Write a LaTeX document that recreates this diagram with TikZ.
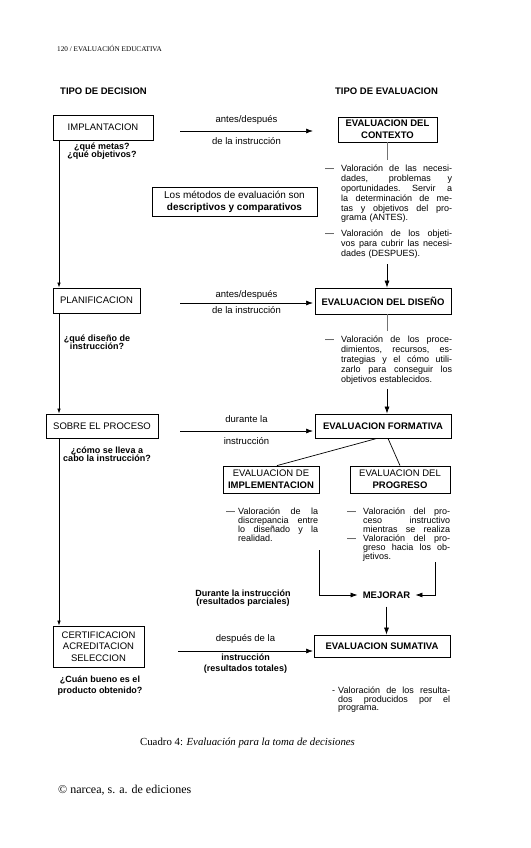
\documentclass[tikz,border=0pt]{standalone}
\usepackage{fontspec}
\setmainfont{Liberation Sans}
\newfontfamily\serifface{Liberation Serif}
\usetikzlibrary{arrows.meta}
\newlength\dashw
\newlength\notew
\setlength\dashw{16pt}
\newcommand{\tf}[2]{\fontsize{#1}{#2}\selectfont\lineskiplimit=-20pt\relax}
\newcommand{\sk}{\spaceskip=0.27em plus 3em\relax\xspaceskip=\spaceskip}
\newcommand{\dl}[2][---]{\noindent\makebox[\dashw][l]{#1}\makebox[\dimexpr\notew-\dashw\relax][s]{\sk#2}\par}
\newcommand{\jl}[1]{\noindent\hspace*{\dashw}\makebox[\dimexpr\notew-\dashw\relax][s]{\sk#1}\par}
\newcommand{\el}[1]{\noindent\hspace*{\dashw}#1\par}

\begin{document}
\begin{tikzpicture}[x=1pt,y=-1pt,
  box/.style={draw, line width=0.8pt, inner sep=1pt, align=center, font=\tf{9.5}{11.7}},
  bbox/.style={box, font=\tf{9.5}{11.7}\bfseries},
  hd/.style={inner sep=0, font=\tf{9.5}{11}\bfseries},
  qu/.style={inner sep=0, align=center, font=\tf{9}{#1}\bfseries},
  lab/.style={inner sep=0, anchor=base, font=\tf{9.5}{11}},
  note/.style={inner sep=0, anchor=north west, font=\tf{9}{#1}},
  nw/.style={text width=#1, execute at begin node={\setlength\notew{#1}}},
  arr/.style={line width=0.7pt, -{Latex[length=7pt,width=5pt]}},
  sarr/.style={line width=0.7pt, -{Latex[length=5pt,width=3.5pt]}},
  ln/.style={line width=0.6pt, black!55}]
\useasboundingbox (0,0) rectangle (530,848);

\node[font=\serifface\tf{7.2}{9}, anchor=west, inner sep=0] (pagehd) at (57,48) {120 / EVALUACIÓN EDUCATIVA};
\node[hd, anchor=west] (tdec) at (60,91) {TIPO DE DECISION};
\node[hd] (teval) at (386.5,91) {TIPO DE EVALUACION};

\node[box, minimum width=100pt, minimum height=25pt] (impl) at (103,127.5) {IMPLANTACION};
\node[bbox, minimum width=99pt, minimum height=25pt] (ctx) at (387.5,129.5) {EVALUACION DEL\\CONTEXTO};
\node[box, font=\tf{10}{11.7}, minimum width=165pt, minimum height=29pt] (met) at (234.5,202) {Los métodos de evaluación son\\\textbf{descriptivos y comparativos}};
\node[box, minimum width=87pt, minimum height=25pt] (plan) at (96.5,300.5) {PLANIFICACION};
\node[bbox, minimum width=136pt, minimum height=26pt] (dis) at (383,301) {EVALUACION DEL DISEÑO};
\node[box, minimum width=112pt, minimum height=24pt] (proc) at (102,426) {SOBRE EL PROCESO};
\node[bbox, minimum width=136pt, minimum height=24pt] (form) at (383,426) {EVALUACION FORMATIVA};
\node[box, minimum width=96pt, minimum height=27pt] (imp) at (271,479.5) {EVALUACION DE\\\textbf{IMPLEMENTACION}};
\node[box, minimum width=100pt, minimum height=27pt] (prog) at (400,479.5) {EVALUACION DEL\\\textbf{PROGRESO}};
\node[box, minimum width=91pt, minimum height=41pt] (cert) at (98.5,646.5) {CERTIFICACION\\ACREDITACION\\SELECCION};
\node[bbox, minimum width=136pt, minimum height=22pt] (sum) at (382,646) {EVALUACION SUMATIVA};

\node[qu=8.5] (q1) at (102,151) {¿qué metas?\\¿qué objetivos?};
\node[qu=8.5] (q2) at (97,342) {¿qué diseño de\\instrucción?};
\node[qu=8.5] (q3) at (107,454) {¿cómo se lleva a\\cabo la instrucción?};
\node[qu=11] (q4) at (100,686) {¿Cuán bueno es el\\producto obtenido?};

\node[note=9.8, nw=127pt] (nctx1) at (325,165) {\dl{Valoración de las necesi-}\jl{dades, problemas y}\jl{oportunidades. Servir a}\jl{la determinación de me-}\jl{tas y objetivos del pro-}\el{grama (ANTES).}};
\node[note=9.8, nw=127pt] (nctx2) at (325,230) {\dl{Valoración de los objeti-}\jl{vos para cubrir las necesi-}\el{dades (DESPUES).}};
\node[note=10, nw=127pt] (ndis) at (325,336) {\dl{Valoración de los proce-}\jl{dimientos, recursos, es-}\jl{trategias y el cómo utili-}\jl{zarlo para conseguir los}\el{objetivos establecidos.}};
\node[note=8.9, nw=92pt] (nimp) at (226,508) {\setlength\dashw{12pt}\dl{Valoración de la}\jl{discrepancia entre}\jl{lo diseñado y la}\el{realidad.}};
\node[note=8.9, nw=103pt] (nprog) at (347,508) {\dl{Valoración del pro-}\jl{ceso instructivo}\jl{mientras se realiza}\dl{Valoración del pro-}\jl{greso hacia los ob-}\el{jetivos.}};
\node[note=8.3, nw=118pt] (nsum) at (332,687) {\setlength\dashw{6pt}\dl[-]{Valoración de los resulta-}\jl{dos producidos por el}\el{programa.}};

\node[inner xsep=5pt, inner ysep=0, font=\tf{9.5}{11}\bfseries] (mej) at (386.5,595) {MEJORAR};
\node[inner sep=0, anchor=north, align=center, font=\tf{9}{8}\bfseries] (dur) at (243,590) {Durante la instrucción\\(resultados parciales)};

\coordinate (a1) at (180,131); \coordinate (b1) at (313,131);
\coordinate (a2) at (180,303); \coordinate (b2) at (313,303);
\coordinate (a3) at (180,431); \coordinate (b3) at (313,431);
\coordinate (a4) at (178,651); \coordinate (b4) at (313,651);
\draw[arr] (a1) -- node[lab, yshift=9pt] {antes/después} node[lab, yshift=-13pt] {de la instrucción} (b1);
\draw[arr] (a2) -- node[lab, yshift=6pt] {antes/después} node[lab, yshift=-10pt] {de la instrucción} (b2);
\draw[arr] (a3) -- node[lab, yshift=9pt] {durante la} node[lab, yshift=-13pt] {instrucción} (b3);
\draw[arr] (a4) -- node[lab, yshift=10pt] {después de la} node[lab, anchor=north, align=center, yshift=-3pt, font=\tf{9}{11}\bfseries] {instrucción\\(resultados totales)} (b4);

\coordinate (ls) at (59,0);
\draw[sarr] (ls |- impl.south) -- (ls |- plan.north);
\draw[sarr] (ls |- plan.south) -- (ls |- proc.north);
\draw[sarr] (ls |- proc.south) -- (ls |- cert.north);

\coordinate (k1) at (387,160);
\coordinate (k2) at (387,264);
\coordinate (k3) at (387,331);
\coordinate (k4) at (387,389);
\draw[ln] (k1 |- ctx.south) -- (k1);
\draw[arr] (k2) -- (k2 |- dis.north);
\draw[ln] (k3 |- dis.south) -- (k3);
\draw[arr] (k4) -- (k4 |- form.north);

\draw[line width=0.7pt] ([xshift=-6pt]form.south) -- ([xshift=6pt]imp.north);
\draw[line width=0.7pt] ([xshift=5pt]form.south) -- (prog.north);

\coordinate (m1) at (319,550);
\coordinate (m2) at (435,562);
\draw[arr] (m1) |- (mej.west);
\draw[arr] (m2) |- (mej.east);
\draw[arr] ([yshift=-8pt]mej.south) -- (mej.south |- sum.north);

\node[font=\serifface\tf{10.8}{12}, inner sep=0] (cap) at (247.5,743) {Cuadro 4: \textit{Evaluación para la toma de decisiones}};
\node[font=\serifface\tf{12}{14}, anchor=west, inner sep=0] (foot) at (58,790) {© narcea, s. a. de ediciones};
\end{tikzpicture}
\end{document}
